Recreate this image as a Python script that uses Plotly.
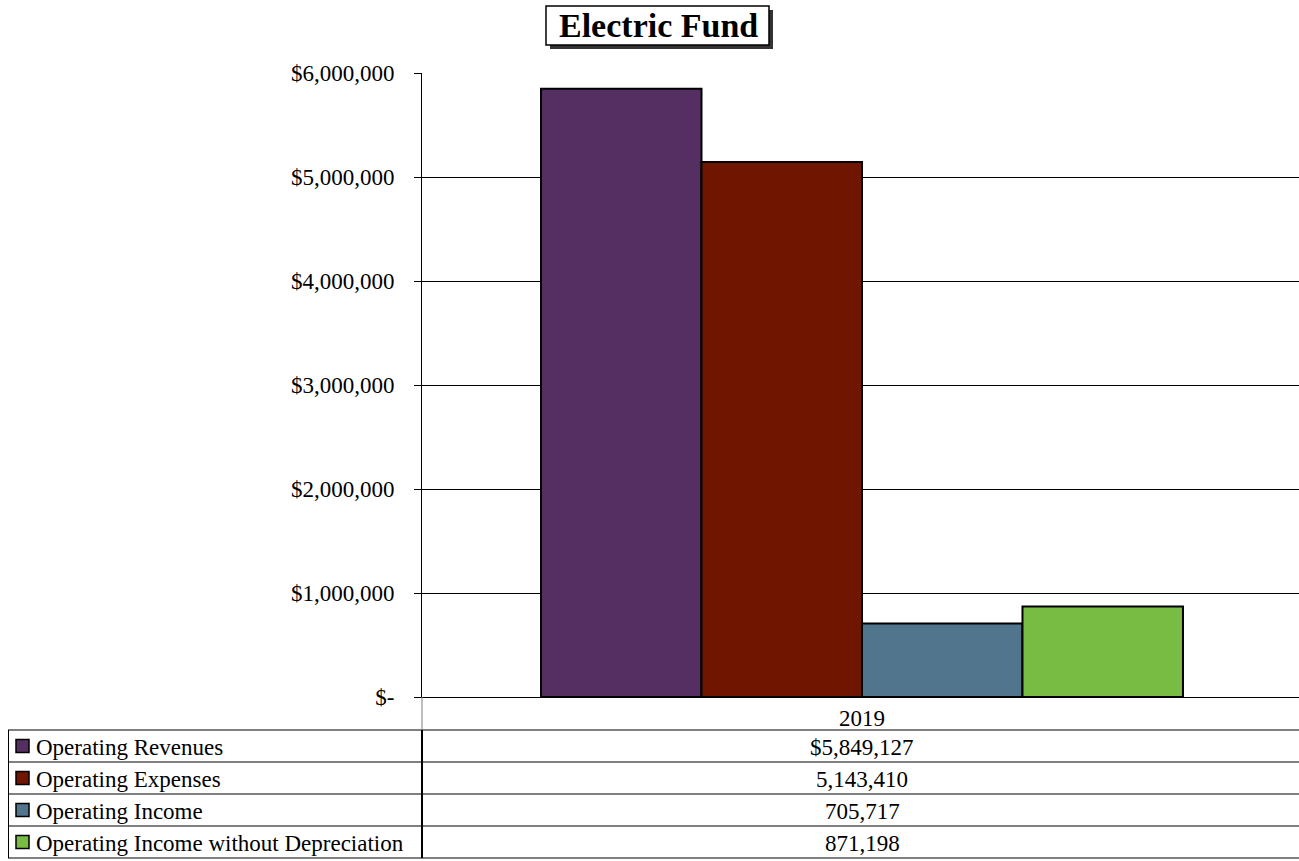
import plotly.graph_objects as go

W, H = 1299, 861

category = ["2019"]
series_names = ["Operating Revenues", "Operating Expenses", "Operating Income",
                "Operating Income without Depreciation"]
series_values = [5849127, 5143410, 705717, 871198]
series_colors = ["#552F62", "#701500", "#50758C", "#79BC43"]
table_text = ["$5,849,127", "5,143,410", "705,717", "871,198"]
y_tickvals = [0, 1000000, 2000000, 3000000, 4000000, 5000000, 6000000]
y_ticktext = ["$-", "$1,000,000", "$2,000,000", "$3,000,000", "$4,000,000",
              "$5,000,000", "$6,000,000"]

FONT = "Liberation Serif, Times New Roman, serif"
FS = 23

def X(px):
    return px / W

def Y(py):
    return 1 - py / H

PL, PR, PT, PB = 422, 1299, 73, 697

fig = go.Figure()
for name, val, col in zip(series_names, series_values, series_colors):
    fig.add_trace(go.Bar(
        x=category, y=[val], name=name,
        marker=dict(color=col, line=dict(color="black", width=2)),
        showlegend=False,
    ))

shapes = []
annotations = []

# Title box with shadow
shapes.append(dict(type="rect", xref="paper", yref="paper",
                   x0=X(550), x1=X(773), y0=Y(49), y1=Y(10),
                   fillcolor="#333333", line=dict(width=0), layer="above"))
shapes.append(dict(type="rect", xref="paper", yref="paper",
                   x0=X(546), x1=X(769), y0=Y(45), y1=Y(6),
                   fillcolor="white", line=dict(color="black", width=1.5), layer="above"))
annotations.append(dict(text="<b>Electric Fund</b>", xref="paper", yref="paper",
                        x=X(658), y=Y(26), showarrow=False,
                        font=dict(family=FONT, size=34, color="black"),
                        xanchor="center", yanchor="middle"))

# Table
row_lines = [730, 762, 794, 826, 858]
for ry in row_lines:
    shapes.append(dict(type="line", xref="paper", yref="paper",
                       x0=X(8), x1=X(1299), y0=Y(ry), y1=Y(ry),
                       line=dict(color="black", width=1)))
shapes.append(dict(type="line", xref="paper", yref="paper",
                   x0=X(8.5), x1=X(8.5), y0=Y(730), y1=Y(858),
                   line=dict(color="black", width=1)))
shapes.append(dict(type="line", xref="paper", yref="paper",
                   x0=X(422), x1=X(422), y0=Y(697), y1=Y(730),
                   line=dict(color="#808080", width=1)))
shapes.append(dict(type="line", xref="paper", yref="paper",
                   x0=X(422), x1=X(422), y0=Y(730), y1=Y(858),
                   line=dict(color="black", width=2)))

for i, (name, col, txt) in enumerate(zip(series_names, series_colors, table_text)):
    top = row_lines[i]
    cy = top + 16
    shapes.append(dict(type="rect", xref="paper", yref="paper",
                       x0=X(16), x1=X(29), y0=Y(cy + 6.5), y1=Y(cy - 6.5),
                       fillcolor=col, line=dict(color="black", width=1.5)))
    annotations.append(dict(text=name, xref="paper", yref="paper",
                            x=X(34), y=Y(cy + 1), showarrow=False,
                            xanchor="left", yanchor="middle",
                            font=dict(family=FONT, size=FS, color="black")))
    annotations.append(dict(text=txt, xref="paper", yref="paper",
                            x=X(862), y=Y(cy + 1), showarrow=False,
                            xanchor="center", yanchor="middle",
                            font=dict(family=FONT, size=FS, color="black")))

fig.update_layout(
    width=W, height=H,
    margin=dict(l=0, r=0, t=0, b=0, autoexpand=False),
    paper_bgcolor="white", plot_bgcolor="white",
    barmode="group", bargap=0.268, bargroupgap=0,
    shapes=shapes, annotations=annotations,
    xaxis=dict(domain=[X(PL), X(PR)], range=[-0.5017, 0.4983],
               showgrid=False, showline=True, automargin=False,
               linecolor="black", linewidth=1, ticks="",
               tickfont=dict(family=FONT, size=FS, color="black"),
               ticklabelstandoff=0, fixedrange=True),
    yaxis=dict(domain=[Y(PB), Y(PT)], range=[0, 6000000], automargin=False,
               tickvals=y_tickvals, ticktext=y_ticktext,
               showgrid=True, gridcolor="black", gridwidth=1,
               showline=True, linecolor="black", linewidth=1,
               ticks="outside", ticklen=7, tickcolor="black",
               tickfont=dict(family=FONT, size=FS, color="black"),
               ticklabelstandoff=15, zeroline=False, fixedrange=True),
    font=dict(family=FONT, color="black"),
)

fig.write_html("out.html")
